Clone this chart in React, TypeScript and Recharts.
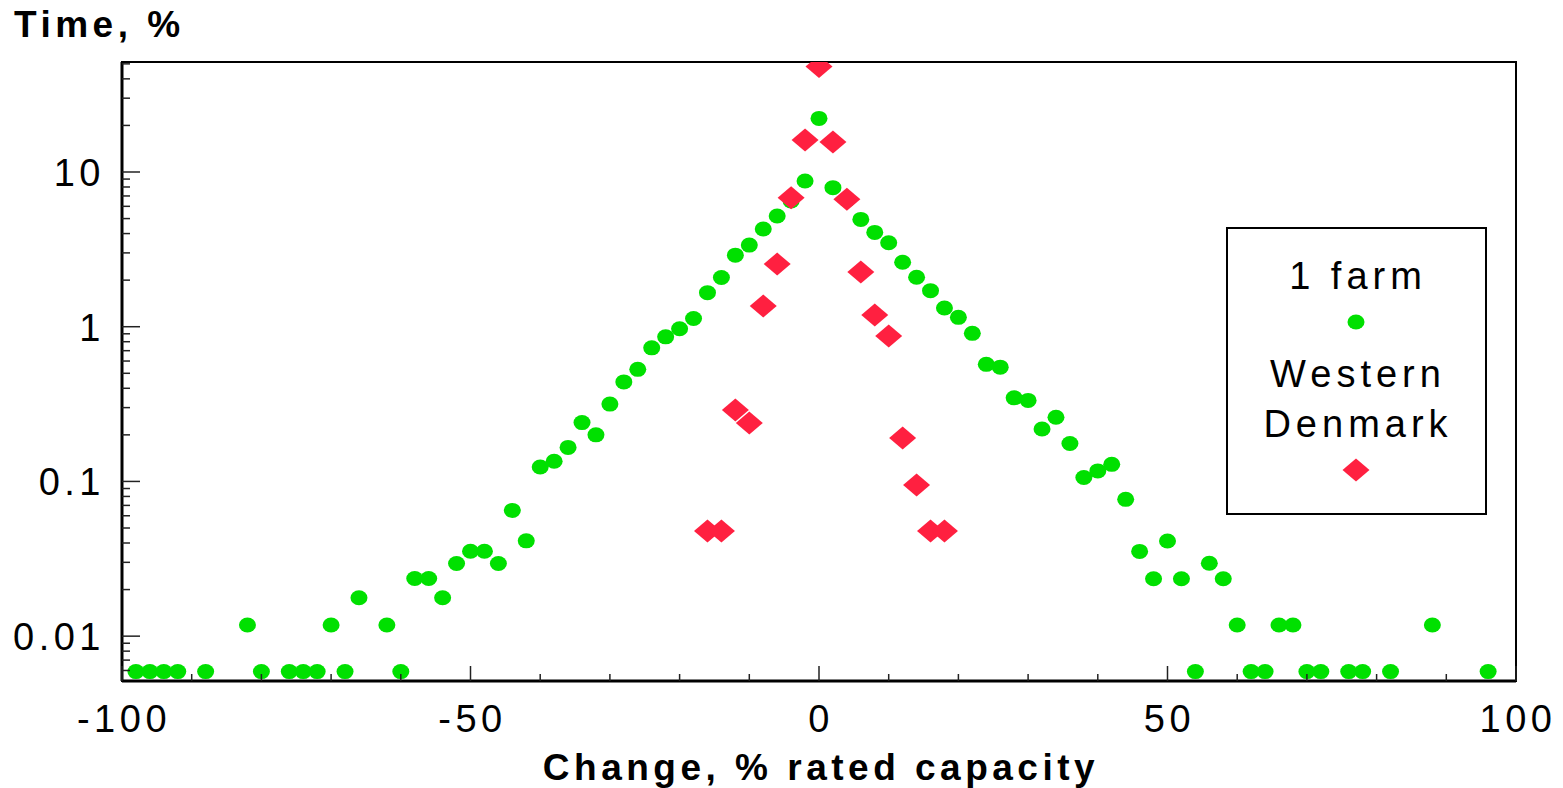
import React from 'react'
import { ScatterChart, Scatter, XAxis, YAxis, ReferenceArea } from 'recharts'

// 1 farm (green dots)
const farmX = [
  -98, -96, -94, -92, -88, -82, -80, -76, -74, -72, -70, -68, -66, -62, -60, -58, -56, -54,
  -52, -50, -48, -46, -44, -42, -40, -38, -36, -34, -32, -30, -28, -26, -24, -22, -20, -18,
  -16, -14, -12, -10, -8, -6, -4, -2, 0, 2, 4, 6, 8, 10, 12, 14, 16, 18, 20, 22, 24, 26, 28,
  30, 32, 34, 36, 38, 40, 42, 44, 46, 48, 50, 52, 54, 56, 58, 60, 62, 64, 66, 68, 70, 72,
  76, 78, 82, 88, 96
]
const farmY = [
  0.0059, 0.0059, 0.0059, 0.0059, 0.0059, 0.0118, 0.0059, 0.0059, 0.0059, 0.0059, 0.0118,
  0.0059, 0.0177, 0.0118, 0.0059, 0.0236, 0.0236, 0.0177,
  0.0295, 0.0354, 0.0354, 0.0295, 0.065, 0.0413, 0.124, 0.135, 0.166, 0.24, 0.2, 0.316,
  0.44, 0.53, 0.73, 0.86, 0.97, 1.13,
  1.66, 2.08, 2.9, 3.37, 4.28, 5.2, 6.5, 8.75, 22.2, 7.92, 6.6, 4.94, 4.07, 3.49, 2.61, 2.09,
  1.71, 1.32, 1.15, 0.906, 0.571, 0.548, 0.347,
  0.334, 0.218, 0.26, 0.176, 0.106, 0.117, 0.129, 0.0766, 0.0353, 0.0235, 0.0412, 0.0235,
  0.0059, 0.0296, 0.0235, 0.0118, 0.0059, 0.0059, 0.0118, 0.0118, 0.0059, 0.0059,
  0.0059, 0.0059, 0.0059, 0.0118, 0.0059
]

// Western Denmark (red diamonds)
const dkX = [-16, -14, -12, -10, -8, -6, -4, -2, 0, 2, 4, 6, 8, 10, 12, 14, 16, 18]
const dkY = [
  0.0478, 0.0478, 0.29, 0.239, 1.36, 2.54, 6.82, 16.1, 48, 15.6, 6.66, 2.26, 1.19, 0.871,
  0.191, 0.0948, 0.0478, 0.0478
]

const xTicks = [-100, -90, -80, -70, -60, -50, -40, -30, -20, -10, 0, 10, 20, 30, 40, 50, 60, 70, 80, 90, 100]
const xLabelTicks = [-100, -50, 0, 50, 100]
const yLabelTicks = [0.01, 0.1, 1, 10]
const yMinorTicks = [
  0.006, 0.007, 0.008, 0.009,
  0.02, 0.03, 0.04, 0.05, 0.06, 0.07, 0.08, 0.09,
  0.2, 0.3, 0.4, 0.5, 0.6, 0.7, 0.8, 0.9,
  2, 3, 4, 5, 6, 7, 8, 9,
  20, 30, 40, 50
]

const Y_MIN = 0.00513
const Y_MAX = 51.4
const GREEN = '#00E000'
const RED = '#FF2040'
const FONT = '"Liberation Sans", Arial, sans-serif'

const farmData = farmX.map((x, i) => ({ x, y: farmY[i] }))
const dkData = dkX.map((x, i) => ({ x, y: dkY[i] }))

const Dot = (p: any) => <ellipse cx={p.cx} cy={p.cy} rx={8.5} ry={7.5} fill={GREEN} />

const Diamond = (p: any) => (
  <polygon
    points={`${p.cx - 13.5},${p.cy} ${p.cx},${p.cy - 11.5} ${p.cx + 13.5},${p.cy} ${p.cx},${p.cy + 11.5}`}
    fill={RED}
  />
)

function XTick(props: any) {
  const { x, y, payload } = props
  const v = payload.value
  const major = v % 50 === 0
  return (
    <g>
      <line x1={x} x2={x} y1={y} y2={y - (major ? 15 : 7)} stroke="#222" strokeWidth={1.5} />
      {xLabelTicks.includes(v) && (
        <text
          x={x + 2}
          y={y + 51}
          textAnchor="middle"
          fontFamily={FONT}
          fontSize={38}
          fill="#000"
          style={{ letterSpacing: 4.5 }}
        >
          {v}
        </text>
      )}
    </g>
  )
}

function YTick(props: any) {
  const { x, y, payload } = props
  const v = payload.value
  const major = yLabelTicks.includes(v)
  return (
    <g>
      <line x1={x} x2={x + (major ? 18 : 8)} y1={y} y2={y} stroke="#222" strokeWidth={1.5} />
      {major && (
        <text
          x={x - 17}
          y={y + 14}
          textAnchor="end"
          fontFamily={FONT}
          fontSize={38}
          fill="#000"
          style={{ letterSpacing: 4.5 }}
        >
          {String(v)}
        </text>
      )}
    </g>
  )
}

export default function App() {
  return (
    <div style={{ position: 'absolute', left: 0, top: 0, width: 1563, height: 788, background: '#fff' }}>
      <ScatterChart width={1563} height={788} margin={{ top: 62, right: 47, bottom: 0, left: 0 }}>
        <ReferenceArea
          x1={-100}
          x2={100}
          y1={Y_MIN}
          y2={Y_MAX}
          fill="none"
          stroke="#000"
          strokeWidth={2}
          ifOverflow="visible"
        />
        <XAxis
          dataKey="x"
          type="number"
          domain={[-100, 100]}
          ticks={xTicks}
          interval={0}
          height={107}
          tickSize={0}
          tickMargin={0}
          tickLine={false}
          axisLine={{ stroke: '#000', strokeWidth: 3 }}
          tick={XTick}
        />
        <YAxis
          dataKey="y"
          type="number"
          scale="log"
          domain={[Y_MIN, Y_MAX]}
          allowDataOverflow
          ticks={[...yMinorTicks, ...yLabelTicks]}
          interval={0}
          width={122}
          tickSize={0}
          tickMargin={0}
          tickLine={false}
          axisLine={{ stroke: '#000', strokeWidth: 3 }}
          tick={YTick}
        />
        <Scatter name="1 farm" data={farmData} shape={Dot} isAnimationActive={false} />
        <Scatter name="Western Denmark" data={dkData} shape={Diamond} isAnimationActive={false} />
      </ScatterChart>

      <svg
        width={1563}
        height={788}
        style={{ position: 'absolute', left: 0, top: 0, pointerEvents: 'none' }}
      >
        <text x={14} y={37} fontFamily={FONT} fontSize={37} fontWeight="bold" style={{ letterSpacing: 4.5 }}>
          Time, %
        </text>
        <text
          x={821}
          y={780}
          textAnchor="middle"
          fontFamily={FONT}
          fontSize={37}
          fontWeight="bold"
          style={{ letterSpacing: 4.5 }}
        >
          Change, % rated capacity
        </text>

        {/* legend */}
        <rect x={1227} y={228} width={259} height={286} fill="#fff" stroke="#000" strokeWidth={2} />
        <g fontFamily={FONT} fontSize={38} textAnchor="middle" style={{ letterSpacing: 5 }}>
          <text x={1358} y={289}>1 farm</text>
          <text x={1358} y={387}>Western</text>
          <text x={1358} y={437}>Denmark</text>
        </g>
        <ellipse cx={1356} cy={322} rx={8.5} ry={7.5} fill={GREEN} />
        <polygon points="1342.5,470 1356,458.5 1369.5,470 1356,481.5" fill={RED} />
      </svg>
    </div>
  )
}
